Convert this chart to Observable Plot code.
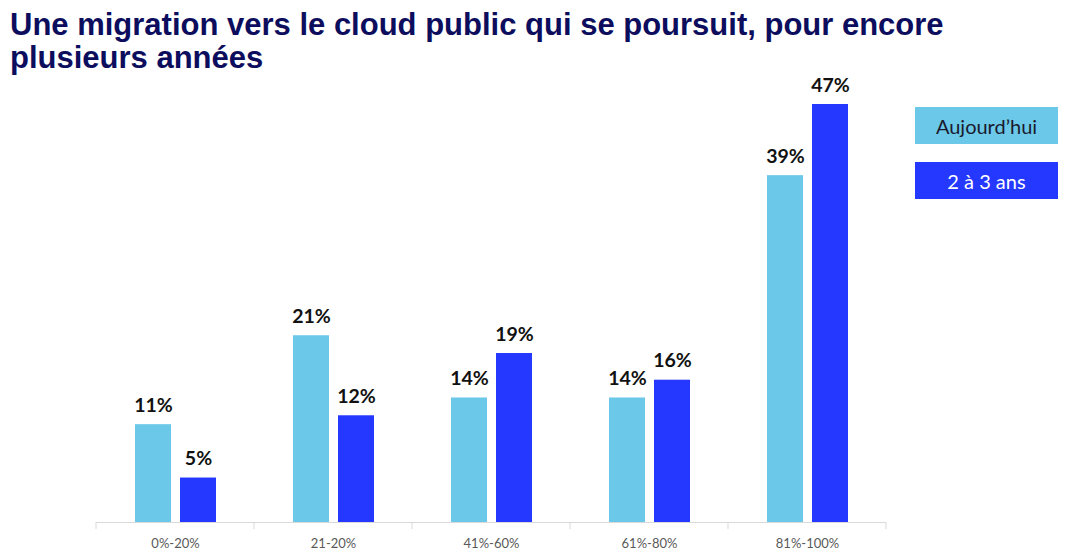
<!DOCTYPE html>
<html><head><meta charset="utf-8">
<script src="https://cdn.jsdelivr.net/npm/d3@7"></script>
<script src="https://cdn.jsdelivr.net/npm/@observablehq/plot@0.6"></script>
<style>
body{margin:0;background:#fff;}
#wrap{position:relative;width:1081px;height:558px;overflow:hidden;}
#chart{position:absolute;left:0;top:0;}
#title{position:absolute;left:10px;top:8px;font:bold 31px "Liberation Sans",Arial,sans-serif;color:#0d0d5e;line-height:33px;white-space:nowrap;}
.leg{position:absolute;left:915px;width:143px;height:37px;display:flex;align-items:center;justify-content:center;font:20px Lato,sans-serif;}
</style></head><body>
<div id="wrap"><div id="chart"></div><div id="title">Une migration vers le cloud public qui se poursuit, pour encore<br>plusieurs années</div><div id="legend"></div></div>
<script>
const categories = ["0%-20%", "21-20%", "41%-60%", "61%-80%", "81%-100%"];
const seriesNames = ["Aujourd’hui", "2 à 3 ans"];
const today = [11, 21, 14, 14, 39];
const in2to3 = [5, 12, 19, 16, 47];
const colors = ["#6BC8E8", "#2438FF"];
const legendText = ["#1a1a2e", "#ffffff"];

const data = categories.flatMap((c, i) => [
  {cat: c, series: seriesNames[0], value: today[i]},
  {cat: c, series: seriesNames[1], value: in2to3[i]}
]);

const chart = Plot.plot({
  width: 1081, height: 558,
  marginLeft: 95, marginRight: 194, marginTop: 104, marginBottom: 36,
  style: {fontFamily: "Lato, sans-serif", background: "transparent"},
  fx: {domain: categories, padding: 0, label: null},
  x: {domain: seriesNames, paddingInner: 0.2, paddingOuter: 0.855, axis: null},
  y: {domain: [0, 47], axis: null},
  color: {domain: seriesNames, range: colors},
  marks: [
    Plot.barY(data, {fx: "cat", x: "series", y: "value", fill: "series"}),
    Plot.ruleY([0], {stroke: "#d9d9d9"}),
    Plot.text(data, {fx: "cat", x: "series", y: "value", text: d => d.value + "%", dy: -19, fontSize: 19.5, fontWeight: "bold", fill: "#111"}),
    Plot.axisFx({anchor: "bottom", tickSize: 0, tickPadding: 16, fontSize: 13, color: "#595959", label: null})
  ]
});
document.getElementById("chart").appendChild(chart);

// group separators from the fx band scale
const fx = chart.scale("fx"), y = chart.scale("y");
const bounds = categories.map(c => fx.apply(c)).concat([fx.apply(categories[categories.length - 1]) + fx.bandwidth]);
d3.select(chart).append("g").selectAll("line").data(bounds).join("line")
  .attr("x1", d => d).attr("x2", d => d)
  .attr("y1", y.apply(0)).attr("y2", y.apply(0) + 7)
  .attr("stroke", "#d9d9d9");

// legend
const legend = document.getElementById("legend");
seriesNames.forEach((s, i) => {
  const div = document.createElement("div");
  div.className = "leg";
  div.style.top = (107 + i * 55) + "px";
  div.style.background = colors[i];
  div.style.color = legendText[i];
  div.textContent = s;
  legend.appendChild(div);
});
</script>
</body></html>
